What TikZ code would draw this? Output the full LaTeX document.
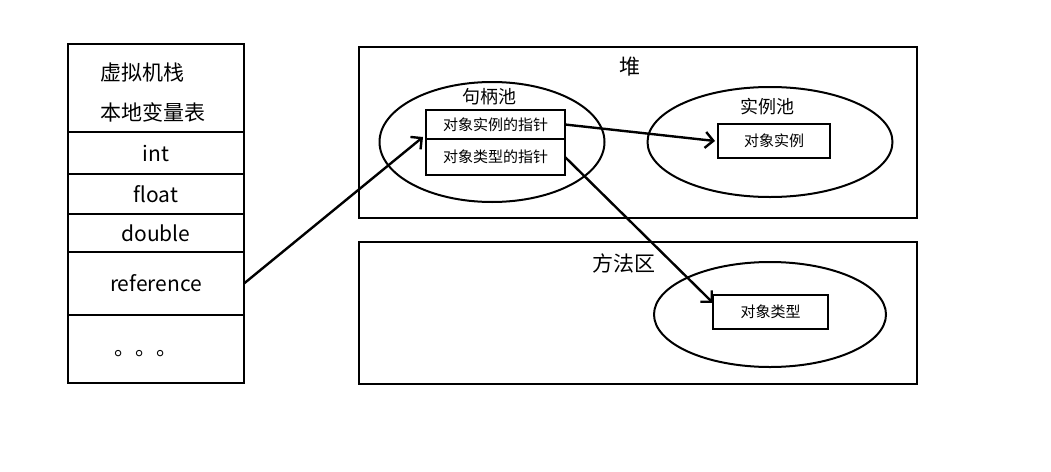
\documentclass[tikz,border=0pt]{standalone}
\usepackage{fontspec}
\setmainfont{Noto Sans CJK SC}
\usetikzlibrary{arrows.meta,positioning,shapes.geometric}

\begin{document}
\begin{tikzpicture}[x=1pt,y=-1pt,
  cell/.style={draw,line width=2.6pt,outer sep=0pt,minimum width=176pt,inner sep=0pt,font=\fontsize{21}{24}\selectfont},
  area/.style={draw,line width=2.6pt,inner sep=0pt},
  pool/.style={draw,ellipse,line width=2pt,inner sep=0pt},
  slot/.style={draw,line width=2.6pt,outer sep=0pt,inner sep=0pt,font=\fontsize{15}{18}\selectfont},
  big/.style={font=\fontsize{21}{24}\selectfont},
  mid/.style={font=\fontsize{18}{21}\selectfont},
  ptr/.style={line width=2.4pt,-{Straight Barb[length=8pt,width=16pt]}}]

\useasboundingbox (0,0) rectangle (1051,471);

% stack
\node[cell,minimum height=88pt] (cTop) at (156,88) {};
\node[big] (tStack) at (142,73) {虚拟机栈};
\node[big] (tLocal) at (153,112) {本地变量表};
\node[cell,minimum height=42pt,below=0pt of cTop] (cInt) {int};
\node[cell,minimum height=40pt,below=0pt of cInt] (cFloat) {float};
\node[cell,minimum height=38pt,below=0pt of cFloat] (cDouble) {double};
\node[cell,minimum height=63pt,below=0pt of cDouble] (cRef) {reference};
\node[cell,minimum height=68pt,below=0pt of cRef] (cMore) {};
\node[big] (tDots) at (146,354) {。。。};

% heap
\node[area,minimum width=558pt,minimum height=171pt] (heap) at (638,132.5) {};
\node[big] (tHeap) at (630,67) {堆};
\node[pool,minimum width=225pt,minimum height=120pt] (hPool) at (492,142) {};
\node[mid] (tHandle) at (489,97) {句柄池};
\node[slot,minimum width=139pt,minimum height=29pt] (hInst) at (495.5,124.5) {对象实例的指针};
\node[slot,minimum width=139pt,minimum height=36pt,below=0pt of hInst] (hType) {对象类型的指针};
\node[pool,minimum width=245pt,minimum height=110pt] (iPool) at (770,142) {};
\node[mid] (tInstPool) at (767,107) {实例池};
\node[slot,minimum width=112pt,minimum height=34pt] (iBox) at (774,141) {对象实例};

% method area
\node[area,minimum width=558pt,minimum height=142pt] (method) at (638,313) {};
\node[big] (tMethod) at (624,263) {方法区};
\node[pool,minimum width=232pt,minimum height=105pt] (mPool) at (770,314.5) {};
\node[slot,minimum width=115pt,minimum height=34pt] (tBox) at (770.5,312) {对象类型};

\draw[ptr] (cRef.east) -- ([shift={(-3,-2)}]hInst.south west);
\draw[ptr] (hInst.east) -- ([xshift=-3pt]iBox.west);
\draw[ptr] (hType.east) -- (tBox.171);
\end{tikzpicture}
\end{document}
